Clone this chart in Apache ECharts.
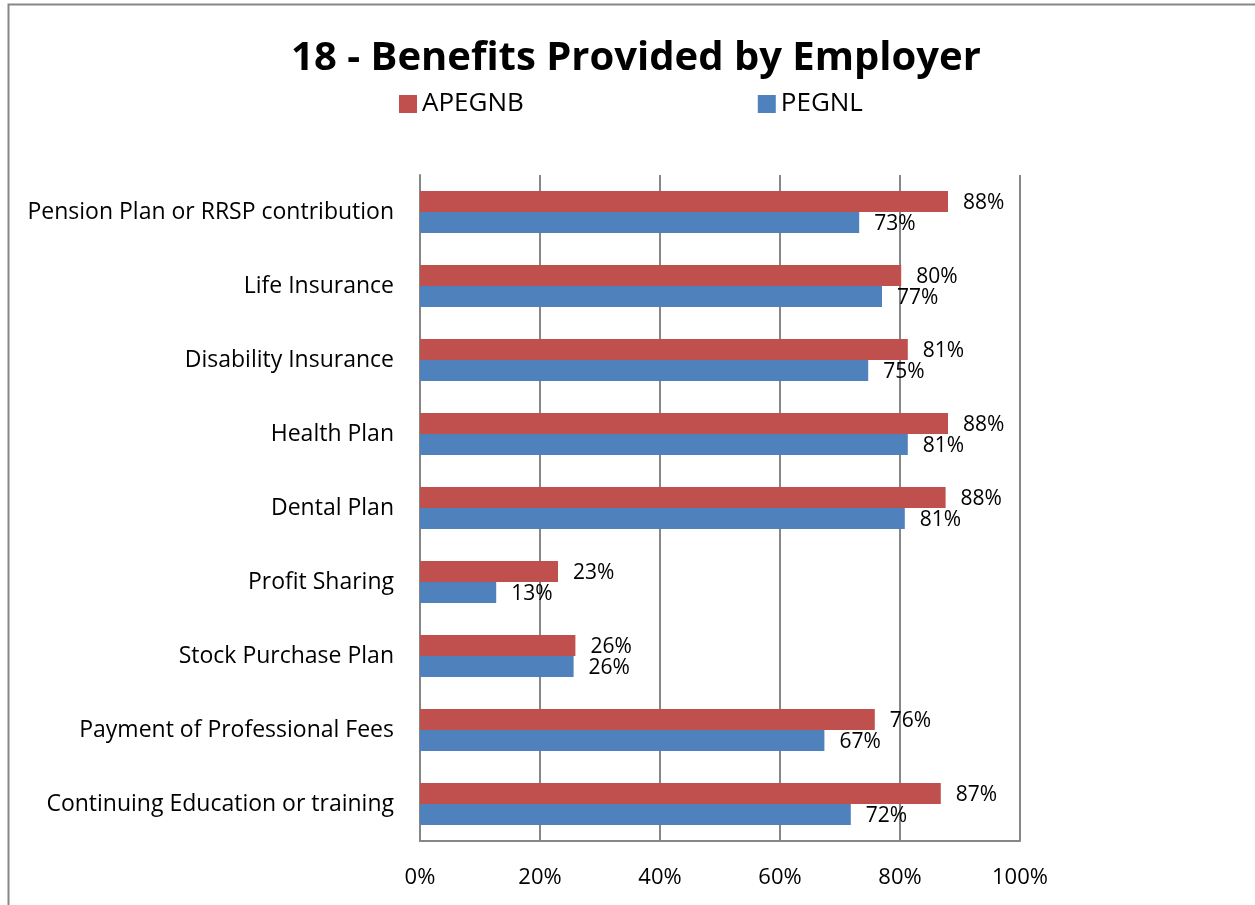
<!DOCTYPE html>
<html>
<head>
<meta charset="utf-8">
<script src="https://cdn.jsdelivr.net/npm/echarts@6/dist/echarts.min.js"></script>
<style>
    html, body {margin:0;padding:0;background:#ffffff;}
    #chart {width:1255px;height:905px;}
</style>
</head>
<body>
<div id="chart"></div>
<script>
    // categories top to bottom
    var categories = [
        'Pension Plan or RRSP contribution',
        'Life Insurance',
        'Disability Insurance',
        'Health Plan',
        'Dental Plan',
        'Profit Sharing',
        'Stock Purchase Plan',
        'Payment of Professional Fees',
        'Continuing Education or training'
    ];
    var apegnb = [88.0, 80.2, 81.3, 88.0, 87.6, 23.0, 25.9, 75.8, 86.8];
    var pegnl = [73.2, 77.0, 74.7, 81.3, 80.8, 12.7, 25.6, 67.4, 71.8];
    var xTicks = [0, 20, 40, 60, 80, 100];

    var font = 'Open Sans';
    var chart = echarts.init(document.getElementById('chart'));

    var label = {
        show: true,
        position: 'right',
        distance: 15,
        offset: [0, 2],
        color: '#000',
        fontFamily: font,
        fontSize: 21,
        formatter: function (p) { return Math.round(p.value) + '%'; }
    };

    var option = {
        backgroundColor: '#ffffff',
        animation: false,
        title: {
            text: '18 - Benefits Provided by Employer',
            left: 631,
            top: 34,
            textAlign: 'center',
            textStyle: {fontFamily: font, fontWeight: 'bold', fontSize: 40, color: '#000'}
        },
        legend: {
            left: 394,
            top: 86,
            itemWidth: 18,
            itemHeight: 18,
            itemGap: 234,
            icon: 'rect',
            textStyle: {fontFamily: font, fontSize: 26, color: '#000'},
            data: ['APEGNB', 'PEGNL']
        },
        graphic: [{
            type: 'rect',
            shape: {x: 8.5, y: 4.5, width: 1300, height: 1000},
            style: {fill: 'none', stroke: '#878787', lineWidth: 2}
        }],
        grid: {left: 420, top: 175, width: 600, height: 666},
        xAxis: {
            type: 'value',
            min: 0,
            max: 100,
            interval: 20,
            axisLine: {show: true, lineStyle: {color: '#868686', width: 2}},
            axisTick: {show: false},
            axisLabel: {
                color: '#000', fontFamily: font, fontSize: 22, margin: 26,
                formatter: function (v) { return xTicks.indexOf(v) >= 0 ? v + '%' : ''; }
            },
            splitLine: {show: true, lineStyle: {color: '#868686', width: 2}}
        },
        yAxis: {
            type: 'category',
            inverse: true,
            data: categories,
            axisLine: {show: true, lineStyle: {color: '#868686', width: 2}},
            axisTick: {show: false},
            axisLabel: {color: '#000', fontFamily: font, fontSize: 23, margin: 26}
        },
        series: [
            {
                name: 'APEGNB',
                type: 'bar',
                data: apegnb,
                barWidth: 21,
                barGap: '0%',
                itemStyle: {color: '#c0504d'},
                label: label
            },
            {
                name: 'PEGNL',
                type: 'bar',
                data: pegnl,
                barWidth: 21,
                barGap: '0%',
                itemStyle: {color: '#4f81bd'},
                label: label
            }
        ]
    };
    chart.setOption(option);
</script>
</body>
</html>
